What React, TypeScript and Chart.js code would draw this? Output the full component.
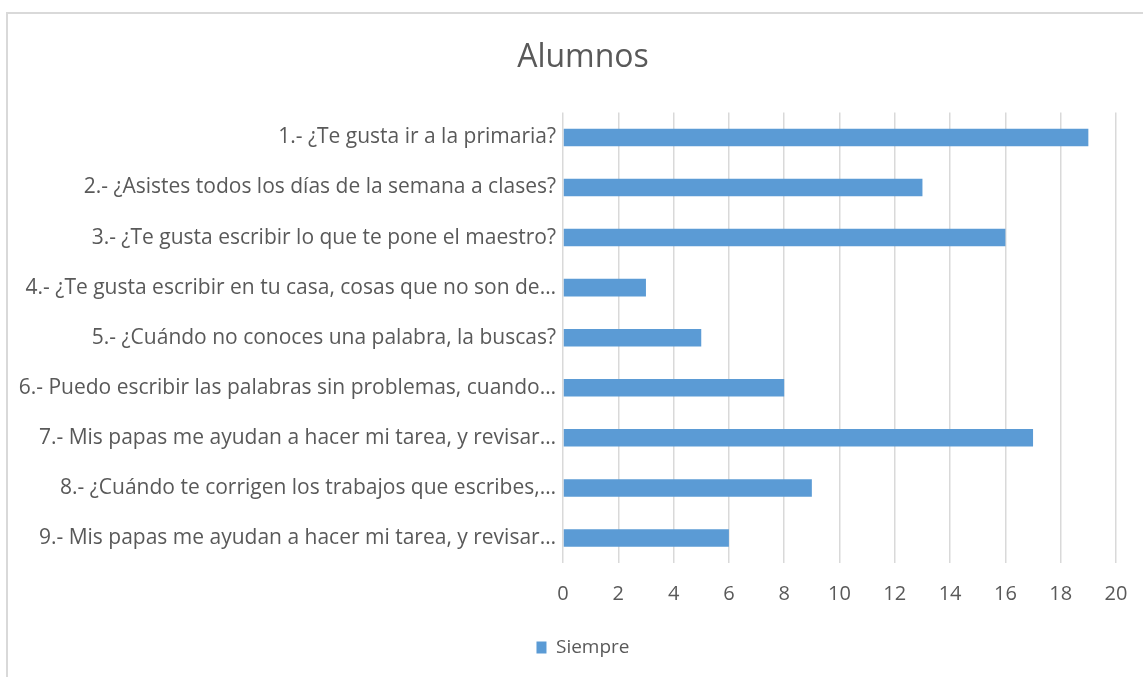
import React, { useEffect, useRef } from "react";
import { Chart, registerables } from "chart.js";

Chart.register(...registerables);

const categories = [
  "1.- ¿Te gusta ir a la primaria?",
  "2.- ¿Asistes todos los días de la semana a clases?",
  "3.- ¿Te gusta escribir lo que te pone el maestro?",
  "4.- ¿Te gusta escribir en tu casa, cosas que no son de…",
  "5.- ¿Cuándo no conoces una palabra, la buscas?",
  "6.- Puedo escribir las palabras sin problemas, cuando…",
  "7.- Mis papas me ayudan a hacer mi tarea, y revisar…",
  "8.- ¿Cuándo te corrigen los trabajos que escribes,…",
  "9.- Mis papas me ayudan a hacer mi tarea, y revisar…",
];
const siempre = [19, 13, 16, 3, 5, 8, 17, 9, 6];
const seriesName = "Siempre";
const chartTitle = "Alumnos";
const xMin = 0;
const xMax = 20;
const xStep = 2;

const FONT = "'Open Sans', Lato, sans-serif";
const TEXT = "#595959";
const BAR = "#5B9BD5";

const unclipLabels = {
  id: "unclipLabels",
  afterLayout(chart: any) {
    const y = chart.scales.y;
    if (y) y.left = 0;
  },
};

export default function App() {
  const ref = useRef<HTMLCanvasElement>(null);
  useEffect(() => {
    if (!ref.current) return;
    const chart = new Chart(ref.current, {
      type: "bar",
      data: {
        labels: categories,
        datasets: [
          {
            label: seriesName,
            data: siempre,
            backgroundColor: BAR,
            borderWidth: 0,
            categoryPercentage: 1,
            barPercentage: 0.35,
          },
        ],
      },
      plugins: [unclipLabels],
      options: {
        indexAxis: "y",
        animation: false,
        responsive: false,
        maintainAspectRatio: false,
        layout: { padding: { left: 50, right: 27, top: 0, bottom: 10 } },
        plugins: {
          title: {
            display: true,
            text: chartTitle,
            color: TEXT,
            font: { family: FONT, size: 32, weight: "normal" },
            padding: { top: 39, bottom: 35 },
          },
          legend: {
            display: true,
            position: "bottom",
            labels: {
              color: TEXT,
              font: { family: FONT, size: 19 },
              boxWidth: 10,
              boxHeight: 12,
              padding: 10,
            },
          },
          tooltip: { enabled: false },
        },
        scales: {
          x: {
            min: xMin,
            max: xMax,
            ticks: {
              stepSize: xStep,
              color: TEXT,
              font: { family: FONT, size: 20 },
              padding: 0,
            },
            grid: {
              color: "#d9d9d9",
              lineWidth: 1.5,
              drawTicks: true,
              tickLength: 19,
              tickColor: "rgba(0,0,0,0)",
            },
            border: { display: false },
            afterFit: (s: any) => {
              s.height = 65;
            },
          },
          y: {
            ticks: {
              color: TEXT,
              font: { family: FONT, size: 21 },
              padding: 7,
              autoSkip: false,
            },
            grid: { display: false, drawTicks: false },
            border: { display: false },
            afterFit: (s: any) => {
              s.width = 513;
            },
          },
        },
      },
    });
    return () => chart.destroy();
  }, []);

  return (
    <div
      style={{
        position: "absolute",
        left: 0,
        top: 0,
        width: 1143,
        height: 677,
        overflow: "hidden",
        background: "#fff",
      }}
    >
      <div
        style={{
          position: "absolute",
          left: 6,
          top: 12,
          width: 1200,
          height: 700,
          border: "2px solid #d9d9d9",
          boxSizing: "border-box",
        }}
      />
      <canvas
        ref={ref}
        width={1143}
        height={677}
        style={{ position: "absolute", left: 0, top: 0, width: 1143, height: 677 }}
      />
    </div>
  );
}
